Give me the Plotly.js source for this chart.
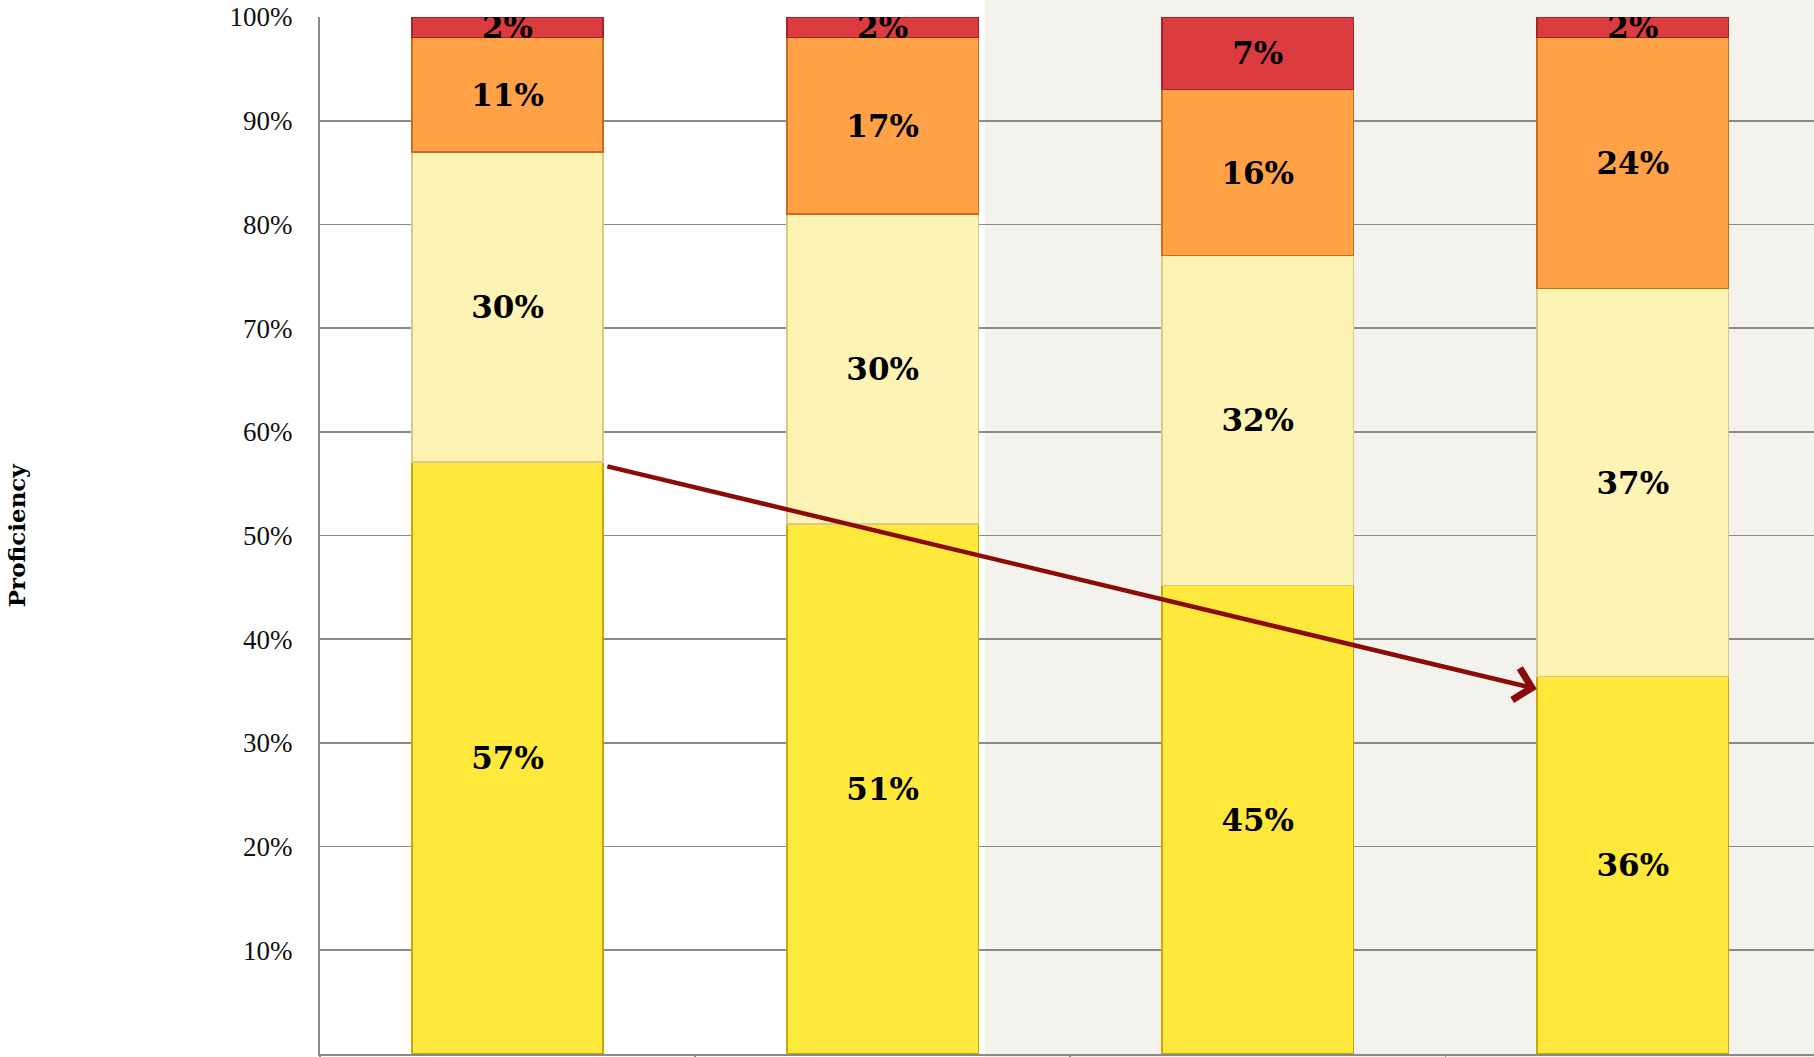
<!DOCTYPE html>
<html>
<head>
<meta charset="utf-8">
<script src="https://cdn.plot.ly/plotly-3.0.1.min.js"></script>
<style>
html,body{margin:0;padding:0;background:#ffffff;}
#chart{width:1814px;height:1057px;}
</style>
</head>
<body>
<div id="chart"></div>
<script>
// ---- data ----
const categories = ['Group 1', 'Group 2', 'Group 3', 'Group 4'];
const level1 = [57.1, 51.1, 45.2, 36.4];   // bottom (gold)
const level2 = [29.9, 29.9, 31.8, 37.4];   // pale yellow
const level3 = [11.0, 17.0, 16.0, 24.2];   // orange
const level4 = [2.0, 2.0, 7.0, 2.0];       // red (top)
const yTickVals = [0, 10, 20, 30, 40, 50, 60, 70, 80, 90, 100];
const yTickText = ['0%', '10%', '20%', '30%', '40%', '50%', '60%', '70%', '80%', '90%', '100%'];
const yTitle = 'Proficiency';

// ---- styling ----
const labelFont = {family: 'DejaVu Serif', size: 31, color: '#000000', weight: 'bold'};
function series(vals, fill, edge) {
  return {
    type: 'bar',
    x: categories,
    y: vals,
    text: vals.map(v => Math.round(v) + '%'),
    texttemplate: '%{text}',
    textposition: 'inside',
    insidetextanchor: 'middle',
    constraintext: 'none',
    textangle: 0,
    textfont: labelFont,
    marker: {color: fill, line: {color: edge, width: 1.5}},
    hoverinfo: 'skip',
    showlegend: false
  };
}

const traces = [
  series(level1, '#ffe83c', '#c9a70a'),
  series(level2, '#fdf3b3', '#d9c98a'),
  series(level3, '#ffa247', '#c86d1c'),
  series(level4, '#dc3c40', '#a3252a')
];

// arrow end points (category index, percent)
const arrowFrom = {x: 0.262, y: 56.7};
const arrowTo = {x: 2.744, y: 35.2};

const layout = {
  width: 1814,
  height: 1057,
  margin: {l: 320, r: 0, t: 17, b: 3},
  paper_bgcolor: '#ffffff',
  plot_bgcolor: 'rgba(0,0,0,0)',
  barmode: 'stack',
  bargap: 0.49,
  showlegend: false,
  xaxis: {
    type: 'category',
    range: [-0.5, 3.483],
    showticklabels: false,
    ticks: 'outside',
    tickson: 'boundaries',
    ticklen: 6,
    tickwidth: 1.5,
    tickcolor: '#8a8a8a',
    showgrid: false,
    showline: true,
    linecolor: '#8a8a8a',
    linewidth: 2,
    zeroline: false,
    fixedrange: true
  },
  yaxis: {
    range: [0, 100],
    tickmode: 'array',
    tickvals: yTickVals,
    ticktext: yTickText,
    ticks: '',
    ticklabelstandoff: 20,
    tickfont: {family: 'Liberation Serif', size: 27, color: '#111111'},
    showgrid: true,
    gridcolor: '#8a8a8a',
    gridwidth: 1.6,
    showline: true,
    linecolor: '#8a8a8a',
    linewidth: 2,
    zeroline: false,
    fixedrange: true
  },
  shapes: [
    {type: 'rect', xref: 'paper', yref: 'paper', x0: 0.445, x1: 1.01, y0: -0.01, y1: 1.02,
     fillcolor: '#f3f2ed', line: {width: 0}, layer: 'below'}
  ],
  annotations: [
    {xref: 'paper', yref: 'paper', x: -0.203, y: 0.5, xanchor: 'center', yanchor: 'middle',
     text: yTitle, textangle: -90, showarrow: false,
     font: {family: 'DejaVu Serif', size: 23, color: '#000000', weight: 'bold'}},
    {x: arrowTo.x, y: arrowTo.y, ax: arrowFrom.x, ay: arrowFrom.y,
     xref: 'x', yref: 'y', axref: 'x', ayref: 'y',
     text: '', showarrow: true, arrowhead: 4, arrowsize: 1.4, arrowwidth: 4.5,
     arrowcolor: '#8b0a0a', standoff: 0}
  ]
};

Plotly.newPlot('chart', traces, layout, {displayModeBar: false, staticPlot: true});
</script>
</body>
</html>
